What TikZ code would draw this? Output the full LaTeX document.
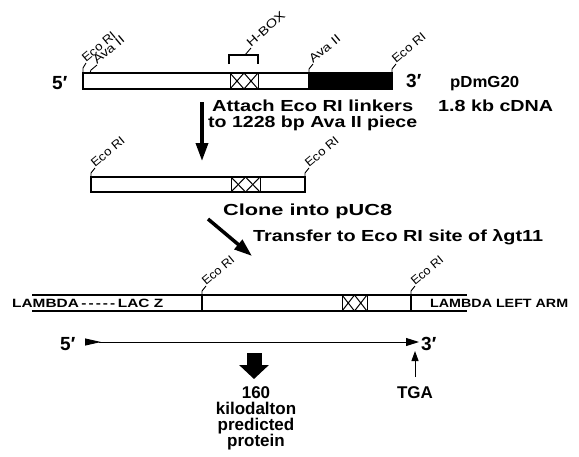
\documentclass[tikz,border=0pt]{standalone}
\usepackage{fontspec}
\usepackage{graphicx}
\setmainfont{Liberation Sans}
\usetikzlibrary{arrows.meta}
\newcommand{\fitw}[2]{\resizebox{#1}{\height}{#2}}
\newcommand{\sitelbl}[5]{%
  \draw[tickline] (#1,#2) -- ++(0,-4) -- ++(4,-5) coordinate (#3);
  \node[sitelabel] (#3l) at (#3) {\fitw{#5}{#4}};}
\newcommand{\xxbox}[5]{%
  \pgfmathsetmacro\xxmid{(#2+#3)/2}
  \draw[crossline] (#2,#4) rectangle (#3,#5);
  \draw[crossline] (#2,#4) -- (\xxmid,#5) (#2,#5) -- (\xxmid,#4) (\xxmid,#4) -- (#3,#5) (\xxmid,#5) -- (#3,#4);
  \coordinate (#1) at (\xxmid,#4);}
\newcommand{\dsh}{-\kern1.6pt}
\begin{document}
\begin{tikzpicture}[x=1pt,y=-1pt,
  bar/.style={draw=black,line width=1.3pt,fill=white},
  tickline/.style={line width=0.9pt},
  sitelabel/.style={font=\fontsize{12}{12}\selectfont, inner sep=0pt, anchor=base west, rotate=40},
  crossline/.style={line width=1pt},
  txt/.style={inner sep=0pt, anchor=base west, font=\bfseries\fontsize{16}{16}\selectfont},
  prime/.style={inner sep=0pt, anchor=base west, font=\bfseries\fontsize{19}{19}\selectfont},
  lam/.style={inner sep=0pt, anchor=base west, font=\bfseries\fontsize{12}{12}\selectfont},
  ctr/.style={inner sep=0pt, anchor=base, font=\bfseries\fontsize{17}{17}\selectfont},
  fatarrow/.style={line width=3.5pt, -{Triangle[width=12pt,length=18pt]}},
]
\useasboundingbox (0,0) rectangle (579,456);

% top construct
\node[prime] (p5a) at (52,89) {5′};
\draw[bar] (83,73) rectangle (309,89);
\draw[bar, fill=black] (309,73) rectangle (392,89);
\xxbox{hb1}{230}{258}{73}{89}
\draw[line width=1.2pt] (229,64) -- (229,55) -- (258,55) -- (258,64);
\draw[tickline] (245,55) -- (251,48) coordinate (hbt);
\node[sitelabel, rotate=2] (hbl) at (hbt) {\fitw{47pt}{H-BOX}};
\draw[tickline] (83,73) -- ++(0,-5) -- ++(3,-5) coordinate (e1);
\node[sitelabel] (e1l) at (e1) {\fitw{40pt}{Eco RI}};
\draw[tickline] (90,73) -- ++(1,-3) -- (97,65) coordinate (a1);
\node[sitelabel] (a1l) at (a1) {\fitw{37pt}{Ava II}};
\sitelbl{309}{73}{a2}{Ava II}{37pt}
\sitelbl{392}{73}{e2}{Eco RI}{40pt}
\node[prime] (p3a) at (406,87) {3′};
\node[txt] (pdm) at (450,87) {\fitw{69pt}{pDmG20}};
\node[txt] (cdna) at (438,111) {\fitw{115pt}{1.8 kb cDNA}};
\node[txt] (att1) at (212,111) {\fitw{201pt}{Attach Eco RI linkers}};
\node[txt] (att2) at (208,127) {\fitw{209pt}{to 1228 bp Ava II piece}};
\coordinate (d1a) at (202,102);
\coordinate (d1b) at (202,161);
\draw[fatarrow] (d1a) -- (d1b);

% second construct
\draw[bar] (91,177) rectangle (305,192);
\xxbox{hb2}{231}{260}{177}{192}
\sitelbl{91}{177}{e3}{Eco RI}{40pt}
\sitelbl{305}{177}{e4}{Eco RI}{40pt}
\node[txt] (clone) at (223,215) {\fitw{169pt}{Clone into pUC8}};
\node[txt] (transfer) at (253,241) {\fitw{290pt}{Transfer to Eco RI site of λgt11}};
\coordinate (d2a) at (208,219);
\coordinate (d2b) at (252,256);
\draw[fatarrow] (d2a) -- (d2b);

% lambda construct
\draw[line width=1.7pt] (32,295) -- (467,295);
\draw[line width=1.3pt] (32,311) -- (467,311);
\draw[line width=1.2pt] (202,311) -- (202,295);
\draw[line width=1.2pt] (411,311) -- (411,295);
\sitelbl{202}{295}{e5}{Eco RI}{38pt}
\sitelbl{411}{295}{e6}{Eco RI}{38pt}
\xxbox{hb3}{342}{367}{295}{311}
\node[lam] (lz) at (12,307.5) {\fitw{151pt}{LAMBDA\kern2pt\dsh\dsh\dsh\dsh-\kern2pt LAC Z}};
\node[lam] (la) at (430,307.5) {\fitw{138pt}{LAMBDA LEFT ARM}};

% reading frame
\node[prime] (p5b) at (60,350) {5′};
\node[prime] (p3b) at (421,350) {3′};
\coordinate (orfs) at (85,342);
\coordinate (orfe) at (419,342);
\draw[line width=0.9pt, {Triangle[reversed,width=7pt,length=16pt]}-{Triangle[width=8pt,length=13pt]}] (orfs) -- (orfe);

% product
\coordinate (fa1) at (254,353);
\coordinate (fa2) at (254,379);
\draw[line width=15pt, -{Triangle[width=29pt,length=14pt]}] (fa1) -- (fa2);
\node[ctr] (n160) at (256,398) {160};
\node[ctr] (kd) at (256,414) {kilodalton};
\node[ctr] (pr) at (256,430) {predicted};
\node[ctr] (pt) at (256,446) {protein};
\node[ctr] (tga) at (415,398) {TGA};
\coordinate (tgas) at (415,377);
\coordinate (tgae) at (415,351);
\draw[line width=1pt, -{Triangle[width=7pt,length=10pt]}] (tgas) -- (tgae);
\end{tikzpicture}
\end{document}
